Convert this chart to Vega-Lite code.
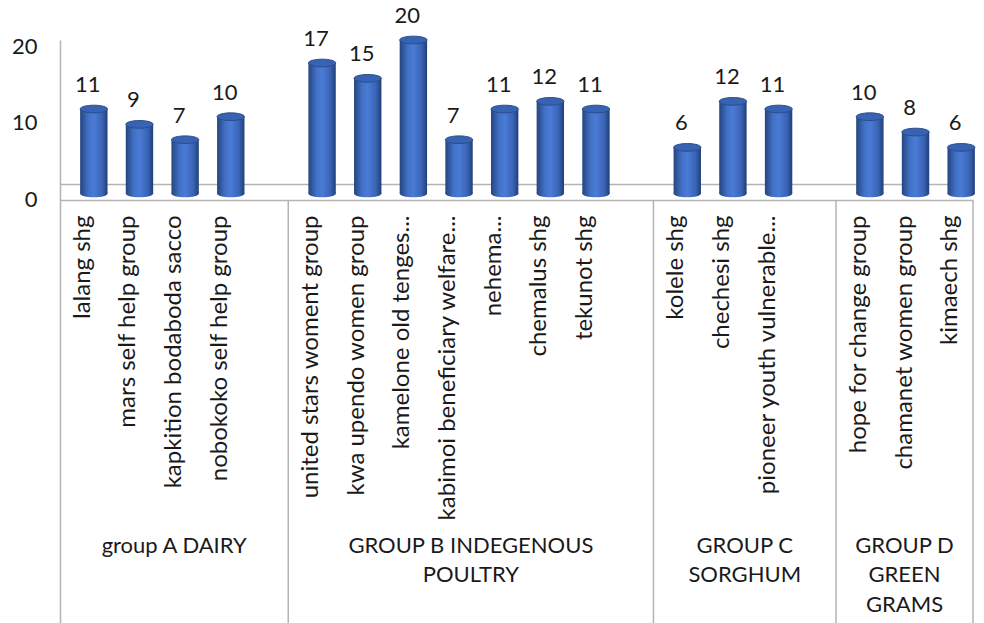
{
  "$schema": "https://vega.github.io/schema/vega-lite/v6.json",
  "width": 913,
  "height": 583,
  "autosize": {"type": "none"},
  "padding": {"left": 60, "top": 40, "right": 11, "bottom": 0},
  "background": "white",
  "config": {
    "view": {"stroke": null},
    "font": "Lato",
    "text": {"font": "Lato", "color": "#1a1a1a"}
  },
  "data": {
    "values": [
      {"group": "group A DAIRY", "name": "lalang shg", "value": 11},
      {"group": "group A DAIRY", "name": "mars self help group", "value": 9},
      {"group": "group A DAIRY", "name": "kapkition bodaboda sacco", "value": 7},
      {"group": "group A DAIRY", "name": "nobokoko self help group", "value": 10},
      {"group": "group A DAIRY", "name": " ", "value": null},
      {"group": "GROUP B INDEGENOUS\nPOULTRY", "name": "united stars woment group", "value": 17},
      {"group": "GROUP B INDEGENOUS\nPOULTRY", "name": "kwa upendo women group", "value": 15},
      {"group": "GROUP B INDEGENOUS\nPOULTRY", "name": "kamelone old  tenges...", "value": 20},
      {"group": "GROUP B INDEGENOUS\nPOULTRY", "name": "kabimoi beneficiary welfare...", "value": 7},
      {"group": "GROUP B INDEGENOUS\nPOULTRY", "name": "nehema...", "value": 11},
      {"group": "GROUP B INDEGENOUS\nPOULTRY", "name": "chemalus shg", "value": 12},
      {"group": "GROUP B INDEGENOUS\nPOULTRY", "name": "tekunot shg", "value": 11},
      {"group": "GROUP B INDEGENOUS\nPOULTRY", "name": "  ", "value": null},
      {"group": "GROUP C\nSORGHUM", "name": "kolele shg", "value": 6},
      {"group": "GROUP C\nSORGHUM", "name": "chechesi shg", "value": 12},
      {"group": "GROUP C\nSORGHUM", "name": "pioneer youth vulnerable...", "value": 11},
      {"group": "GROUP C\nSORGHUM", "name": "   ", "value": null},
      {"group": "GROUP D\nGREEN\nGRAMS", "name": "hope for change group", "value": 10},
      {"group": "GROUP D\nGREEN\nGRAMS", "name": "chamanet women group", "value": 8},
      {"group": "GROUP D\nGREEN\nGRAMS", "name": "kimaech shg", "value": 6}
    ]
  },
  "resolve": {"scale": {"x": "independent"}},
  "layer": [
    {
      "data": {"values": [{}]},
      "mark": {"type": "rule", "color": "#b4b4b4", "strokeWidth": 1.5, "yOffset": -9},
      "encoding": {
        "y": {"datum": 0, "scale": {"domain": [-56, 20], "nice": false, "zero": false}}
      }
    },
    {
      "transform": [
        {"window": [{"op": "row_number", "as": "slot"}]},
        {"aggregate": [{"op": "max", "field": "slot", "as": "end"}], "groupby": ["group"]}
      ],
      "mark": {"type": "rule", "color": "#b4b4b4", "strokeWidth": 1.5, "yOffset": 7},
      "encoding": {
        "x": {"field": "end", "type": "quantitative", "scale": {"domain": [0, 20], "nice": false, "zero": false}, "axis": null},
        "y": {"datum": 0},
        "y2": {"datum": -56}
      }
    },
    {
      "transform": [
        {"window": [{"op": "row_number", "as": "slot"}]},
        {"aggregate": [{"op": "mean", "field": "slot", "as": "mid"}], "groupby": ["group"]}
      ],
      "mark": {"type": "text", "fontSize": 22, "baseline": "top", "align": "center", "lineBreak": "\n", "lineHeight": 29.5, "color": "#1a1a1a"},
      "encoding": {
        "x": {"field": "mid", "type": "quantitative", "scale": {"domain": [0.5, 20.5], "nice": false, "zero": false}, "axis": null},
        "y": {"datum": -44.6},
        "text": {"field": "group"}
      }
    },
    {
      "encoding": {
        "x": {
          "field": "name",
          "type": "nominal",
          "sort": null,
          "scale": {
            "domain": [
              "lalang shg", "mars self help group", "kapkition bodaboda sacco", "nobokoko self help group", " ",
              "united stars woment group", "kwa upendo women group", "kamelone old  tenges...", "kabimoi beneficiary welfare...", "nehema...", "chemalus shg", "tekunot shg", "  ",
              "kolele shg", "chechesi shg", "pioneer youth vulnerable...", "   ",
              "hope for change group", "chamanet women group", "kimaech shg"
            ],
            "paddingInner": 0,
            "paddingOuter": 0
          },
          "axis": {
            "orient": "bottom",
            "offset": -423,
            "title": null,
            "labelAngle": -90,
            "labelAlign": "right",
            "labelBaseline": "middle",
            "labelPadding": 15,
            "labelFontSize": 24,
            "labelFont": "Lato",
            "labelColor": "#1a1a1a",
            "labelLimit": 400,
            "ticks": false,
            "domainColor": "#b4b4b4",
            "domainWidth": 1.5,
            "labelOverlap": false
          }
        }
      },
      "layer": [
        {
          "transform": [{"filter": "datum.value != null"}],
          "mark": {
            "type": "point",
            "shape": "M-1,0A1,0.28,0,1,1,1,0A1,0.28,0,1,1,-1,0Z",
            "size": 751,
            "filled": true,
            "opacity": 1,
            "xOffset": 11,
            "fill": {
              "gradient": "linear", "x1": 0, "y1": 0, "x2": 1, "y2": 0,
              "stops": [
                {"offset": 0, "color": "#24457f"},
                {"offset": 0.3, "color": "#4271c6"},
                {"offset": 0.5, "color": "#4a7bd6"},
                {"offset": 0.8, "color": "#3a64b5"},
                {"offset": 1, "color": "#203f7a"}
              ]
            }
          },
          "encoding": {
            "y": {"datum": 0}
          }
        },
        {
          "transform": [{"filter": "datum.value != null"}],
          "mark": {
            "type": "bar",
            "width": {"band": 0.6},
            "xOffset": 11,
            "fill": {
              "gradient": "linear", "x1": 0, "y1": 0, "x2": 1, "y2": 0,
              "stops": [
                {"offset": 0, "color": "#24457f"},
                {"offset": 0.3, "color": "#4271c6"},
                {"offset": 0.5, "color": "#4a7bd6"},
                {"offset": 0.8, "color": "#3a64b5"},
                {"offset": 1, "color": "#203f7a"}
              ]
            }
          },
          "encoding": {
            "y": {
              "field": "value",
              "type": "quantitative",
              "scale": {"domain": [-56, 20], "nice": false, "zero": false},
              "axis": {
                "values": [0, 10, 20],
                "title": null,
                "grid": false,
                "ticks": false,
                "domain": true,
                "domainColor": "#b4b4b4",
                "domainWidth": 1.5,
                "labelPadding": 23,
                "labelOffset": 6,
                "labelFontSize": 22,
                "labelFont": "Lato",
                "labelColor": "#1a1a1a"
              }
            },
            "y2": {"datum": 0}
          }
        },
        {
          "transform": [{"filter": "datum.value != null"}],
          "mark": {
            "type": "point",
            "shape": "M-1,0A1,0.28,0,1,1,1,0A1,0.28,0,1,1,-1,0Z",
            "size": 751,
            "filled": true,
            "opacity": 1,
            "xOffset": 11,
            "fill": "#3862b2",
            "stroke": "#2a4d8c",
            "strokeWidth": 1
          },
          "encoding": {
            "y": {"field": "value", "type": "quantitative"}
          }
        },
        {
          "transform": [{"filter": "datum.value != null"}],
          "mark": {"type": "text", "fontSize": 22, "baseline": "alphabetic", "align": "center", "dy": -17, "xOffset": 5, "color": "#1a1a1a"},
          "encoding": {
            "y": {"field": "value", "type": "quantitative"},
            "text": {"field": "value", "type": "quantitative"}
          }
        }
      ]
    }
  ]
}
